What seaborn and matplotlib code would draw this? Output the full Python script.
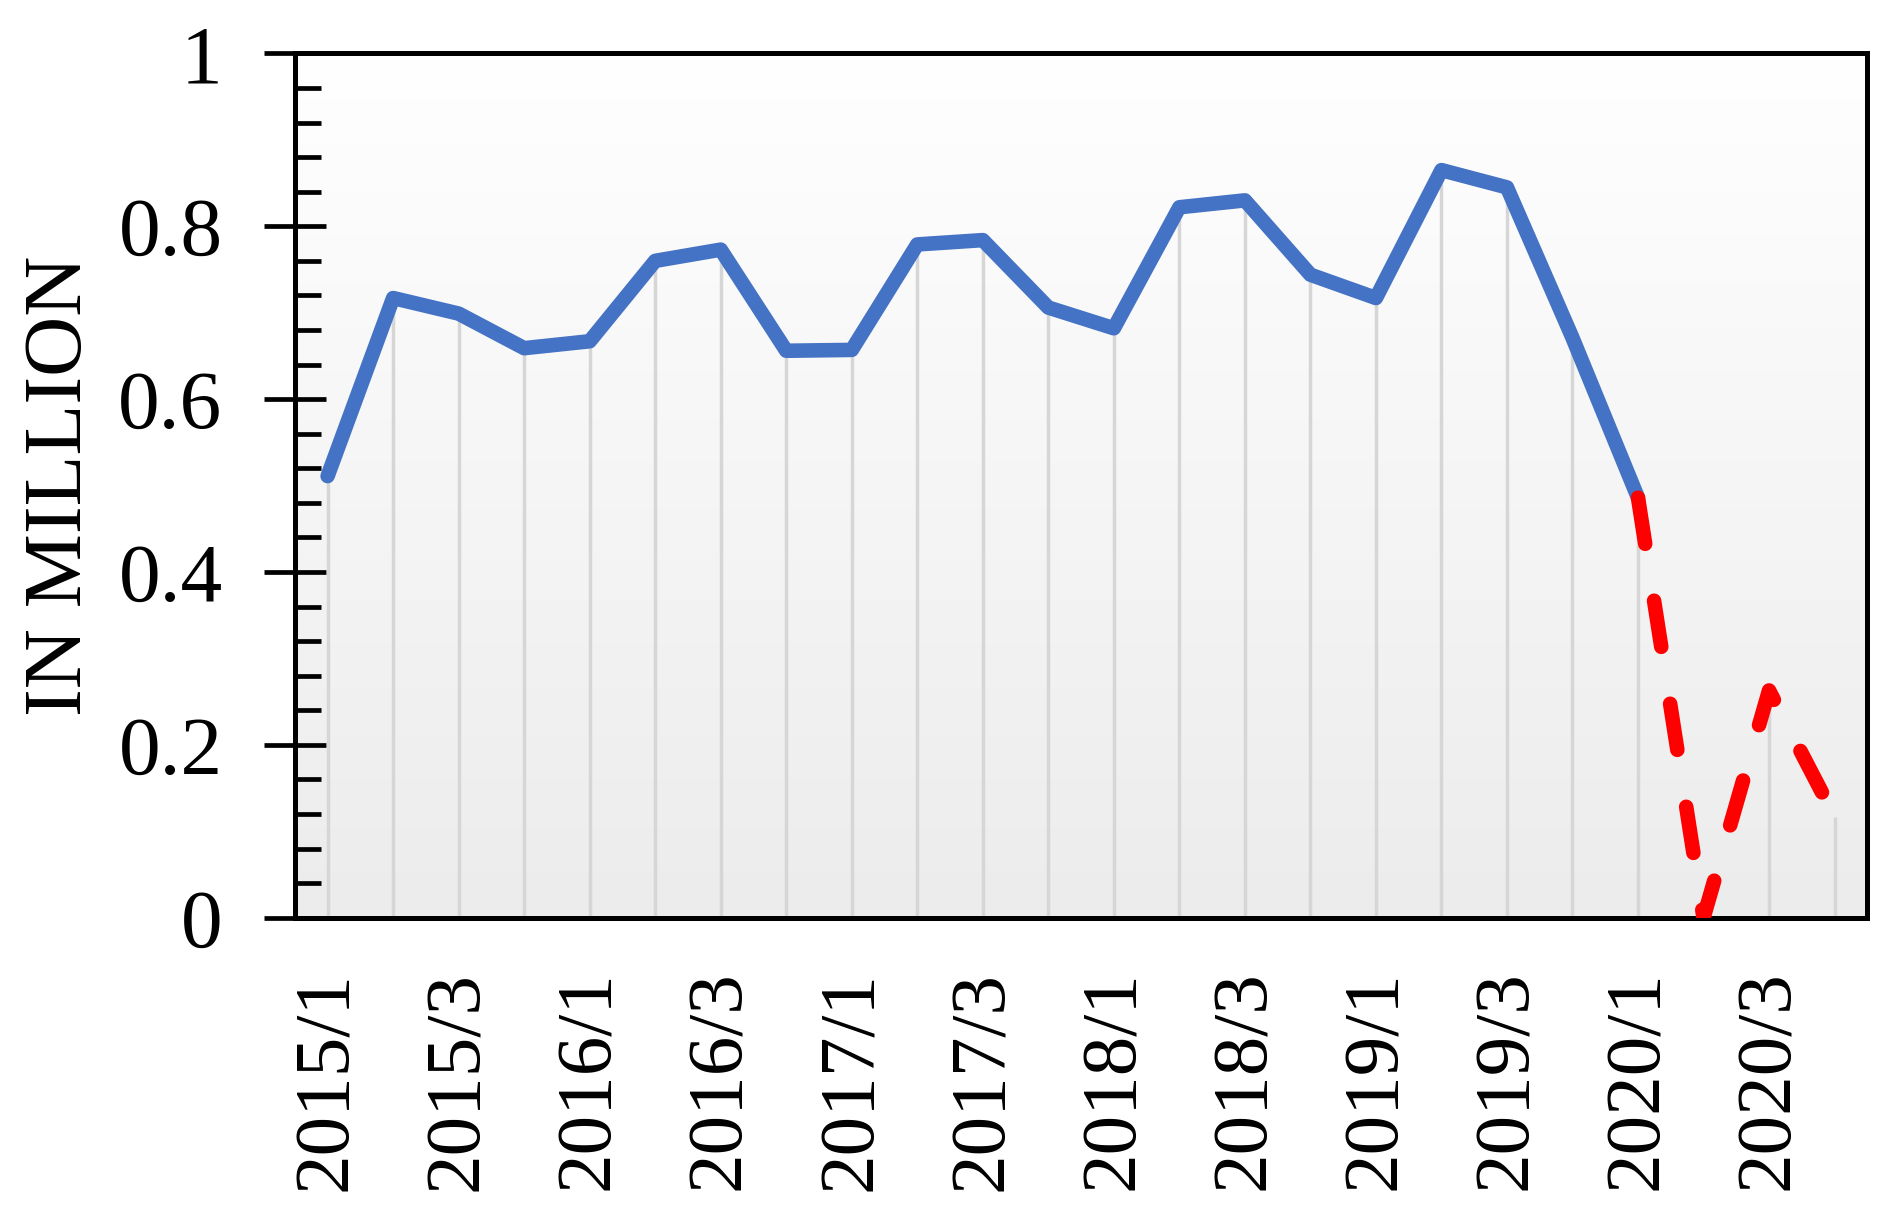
import numpy as np
import pandas as pd
import matplotlib
matplotlib.use("Agg")
import matplotlib.pyplot as plt
import seaborn as sns
from matplotlib.colors import LinearSegmentedColormap

# ---- data ----
quarters = ["2015/1", "2015/2", "2015/3", "2015/4",
            "2016/1", "2016/2", "2016/3", "2016/4",
            "2017/1", "2017/2", "2017/3", "2017/4",
            "2018/1", "2018/2", "2018/3", "2018/4",
            "2019/1", "2019/2", "2019/3", "2019/4",
            "2020/1", "2020/2", "2020/3", "2020/4"]
actual = [0.511, 0.717, 0.699, 0.659, 0.667, 0.760, 0.773, 0.656,
          0.657, 0.779, 0.784, 0.706, 0.682, 0.822, 0.830, 0.744,
          0.717, 0.865, 0.845, 0.671, 0.486]
forecast_quarters = ["2020/1", "2020/2", "2020/3", "2020/4"]
forecast = [0.486, 0.0, 0.263, 0.117]
y_ticks = [0, 0.2, 0.4, 0.6, 0.8, 1.0]
y_tick_labels = ["0", "0.2", "0.4", "0.6", "0.8", "1"]
y_label = "IN MILLION"

pos = {q: i for i, q in enumerate(quarters)}
df_a = pd.DataFrame({"x": [pos[q] for q in quarters[:len(actual)]], "y": actual})
df_f = pd.DataFrame({"x": [pos[q] for q in forecast_quarters], "y": forecast})

sns.set_theme(style="white")
plt.rcParams["font.family"] = ["Liberation Serif", "DejaVu Serif"]
plt.rcParams["text.color"] = "black"
plt.rcParams["xtick.color"] = "black"
plt.rcParams["ytick.color"] = "black"
plt.rcParams["axes.labelcolor"] = "black"

fig = plt.figure(figsize=(18.9, 12.14), dpi=100)
ax = fig.add_axes([0.156, 0.244, 0.832, 0.712])

# gradient background (white at top -> light grey at bottom)
grad = np.linspace(0, 1, 256).reshape(-1, 1)
cmap = LinearSegmentedColormap.from_list("bg", ["#ffffff", "#ececec"])
ax.imshow(grad, aspect="auto", cmap=cmap, extent=[-0.5, len(quarters) - 0.5, 0.0, 1.0],
          origin="upper", zorder=0)

# drop lines
all_x = list(df_a["x"]) + list(df_f["x"][1:])
all_y = list(df_a["y"]) + list(df_f["y"][1:])
ax.vlines(all_x, 0, all_y, colors="#d6d6d6", linewidth=2.5, zorder=1)

sns.lineplot(data=df_a, x="x", y="y", ax=ax, color="#4472C4", linewidth=10.5, zorder=3)
la = ax.lines[-1]
la.set_solid_capstyle("round")
la.set_solid_joinstyle("round")
sns.lineplot(data=df_f, x="x", y="y", ax=ax, color="#FF0000", linewidth=10.5, zorder=4)
lf = ax.lines[-1]
lf.set_dashes((3.2, 3.95))
lf.set_dash_capstyle("round")

ax.set_xlim(-0.5, len(quarters) - 0.5)
ax.set_ylim(0, 1.0)

ax.set_xticks(range(0, len(quarters), 2))
ax.set_xticklabels(quarters[::2], rotation=90, fontsize=57)
ax.set_yticks(y_ticks)
ax.set_yticklabels(y_tick_labels, fontsize=60)
ax.set_yticks(np.arange(0.04, 1.0, 0.04), minor=True)
ax.tick_params(axis="y", which="major", direction="inout", length=44, width=3.4,
               color="black", pad=30, left=True)
ax.tick_params(axis="y", which="minor", direction="in", length=19, width=3.4,
               color="black", left=True)
ax.tick_params(axis="x", which="both", length=0, pad=38)
ax.set_xlabel("")
ax.set_ylabel(y_label, fontsize=60, labelpad=14)

for s in ax.spines.values():
    s.set_visible(True)
    s.set_color("black")
    s.set_linewidth(3.6)

fig.savefig("out.png", dpi=100, facecolor="white")
